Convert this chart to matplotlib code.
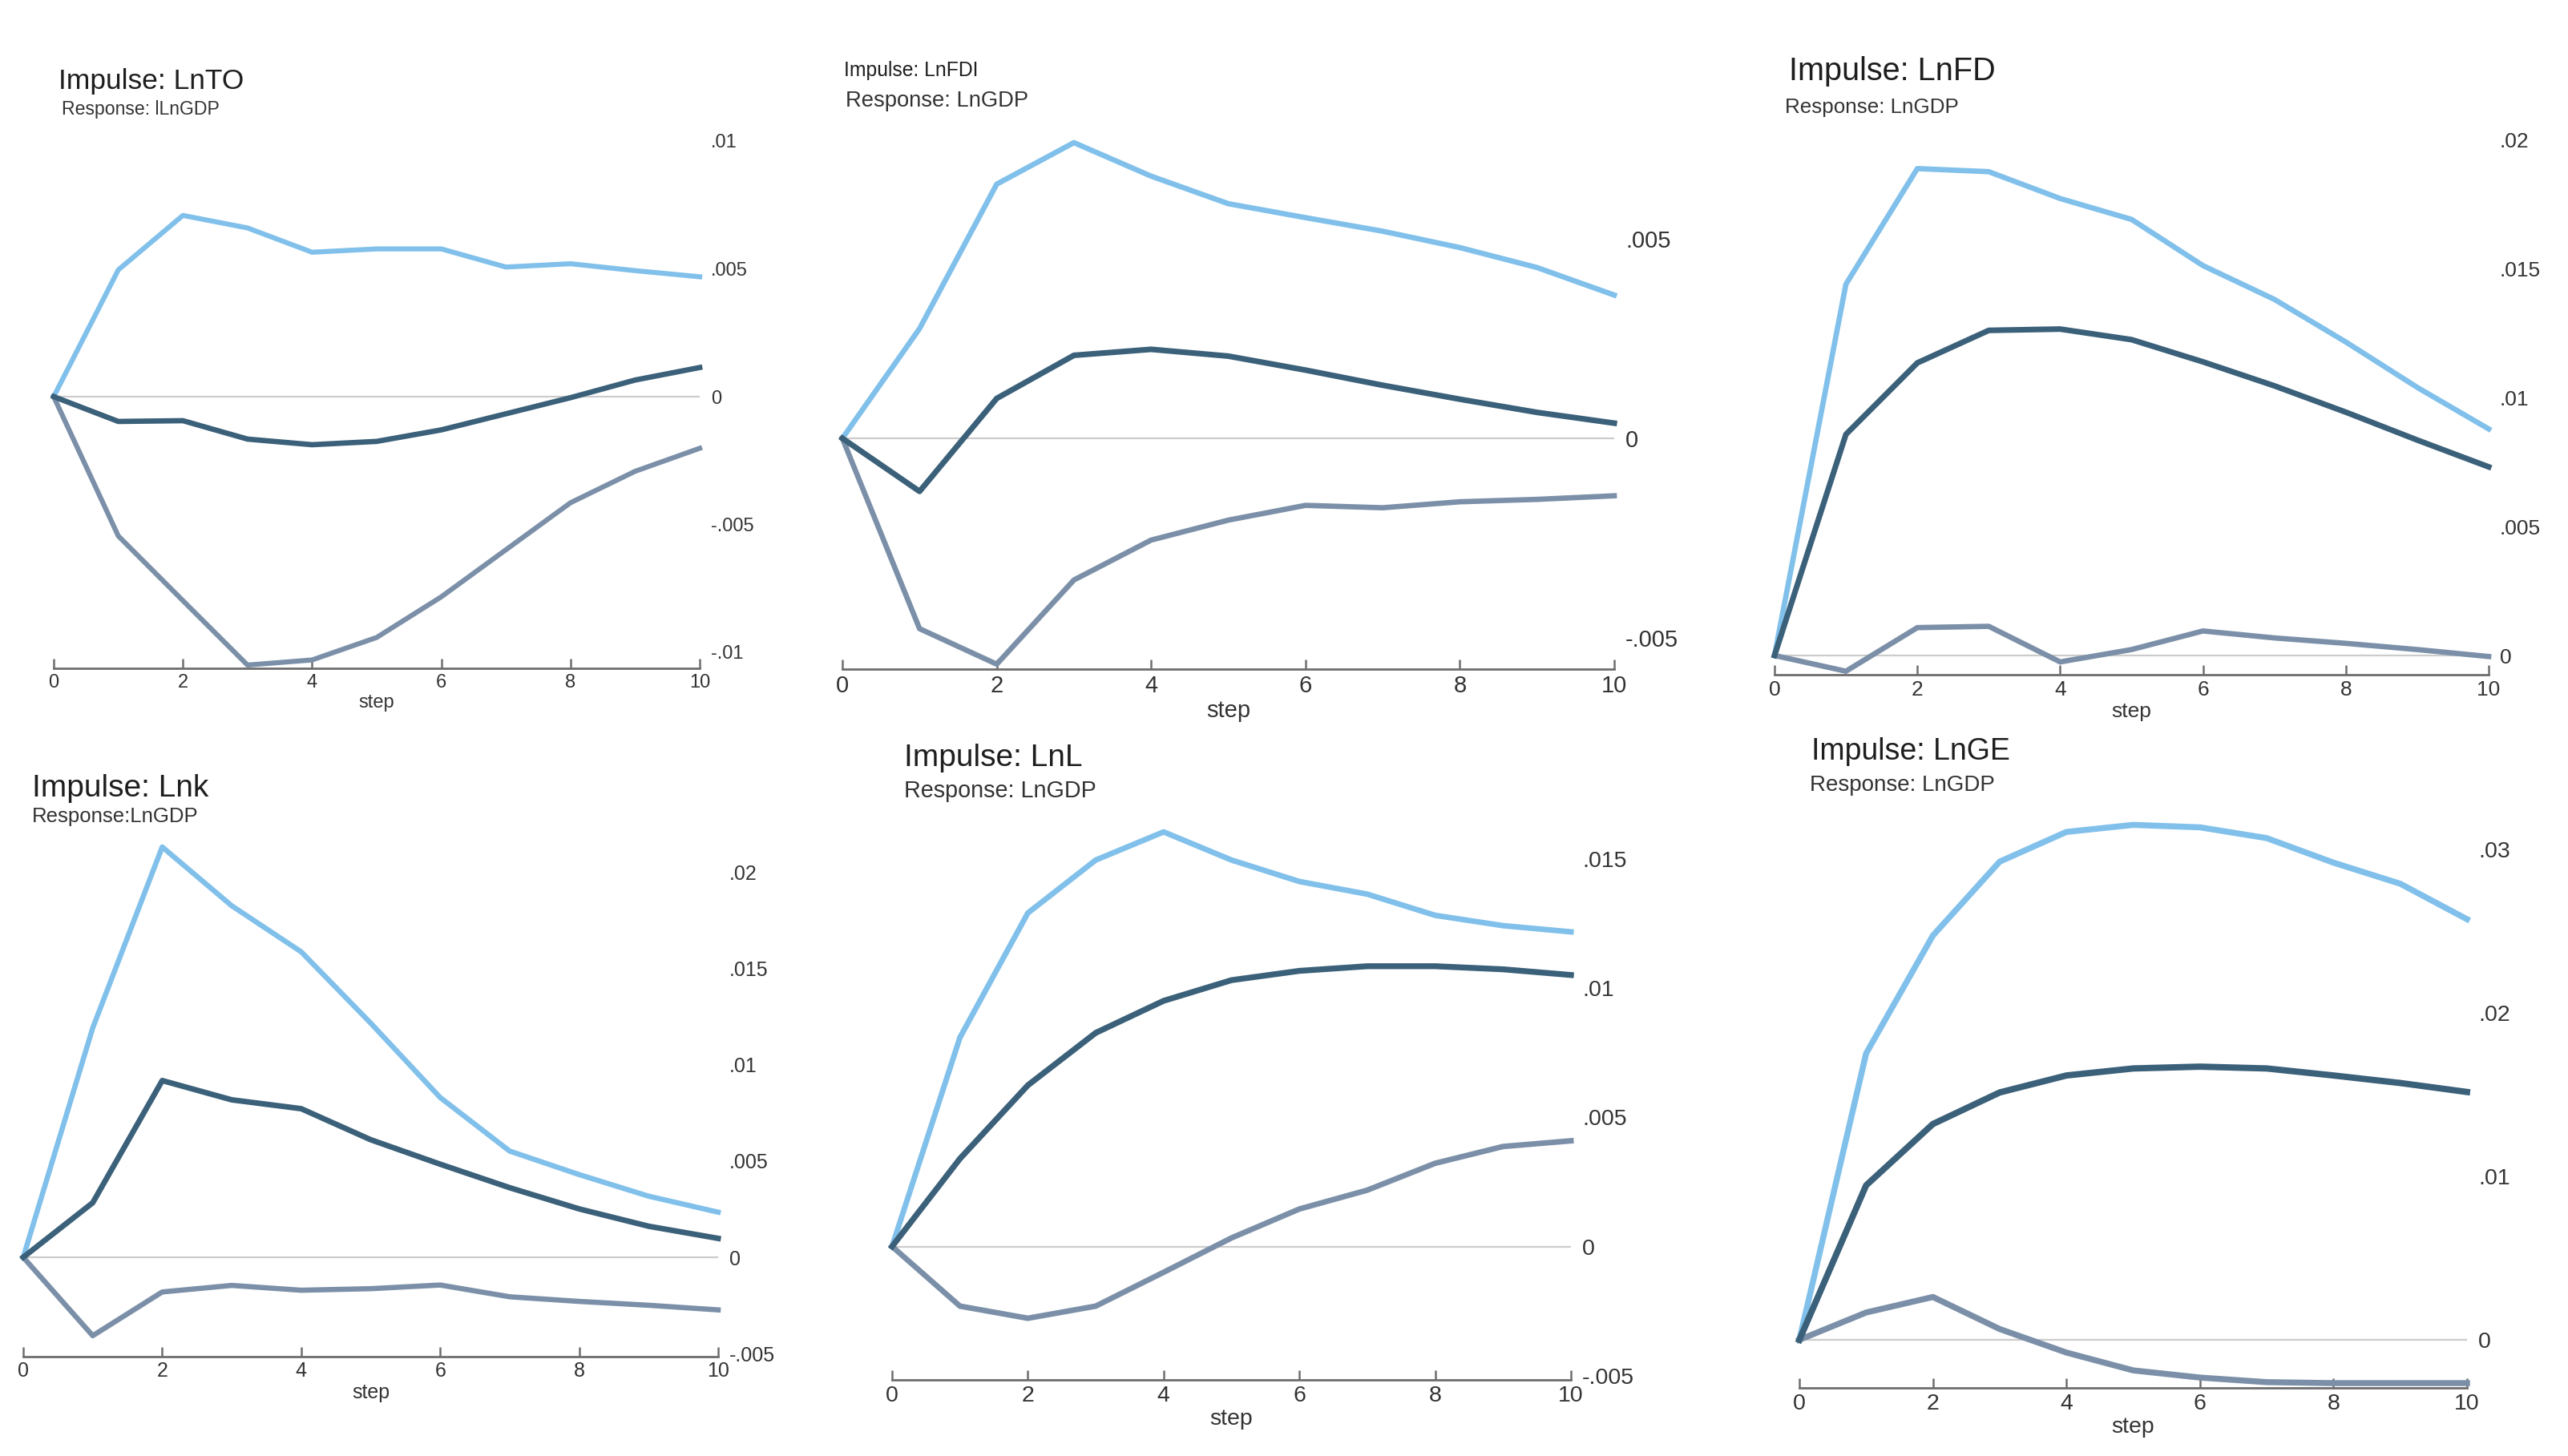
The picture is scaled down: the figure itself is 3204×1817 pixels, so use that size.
import matplotlib
matplotlib.use("Agg")
import matplotlib.pyplot as plt

plt.rcParams['font.family'] = ['Liberation Sans', 'DejaVu Sans']

steps = [0, 1, 2, 3, 4, 5, 6, 7, 8, 9, 10]

# Panel 1: Impulse LnTO
lnto_upper = [0, 0.00496, 0.00709, 0.0066, 0.00565, 0.00578, 0.00578, 0.00507, 0.0052, 0.00493, 0.00469]
lnto_irf = [0, -0.00097, -0.00094, -0.00166, -0.00188, -0.00175, -0.0013, -0.00067, -0.00004, 0.00065, 0.00114]
lnto_lower = [0, -0.00545, -0.00798, -0.0105, -0.0103, -0.00942, -0.00783, -0.00599, -0.00415, -0.00292, -0.00202]

# Panel 2: Impulse LnFDI
lnfdi_upper = [0, 0.00275, 0.00637, 0.00741, 0.00657, 0.00588, 0.00553, 0.00519, 0.00478, 0.00428, 0.00359]
lnfdi_irf = [0, -0.00133, 0.0010, 0.00208, 0.00223, 0.00206, 0.00171, 0.00133, 0.00098, 0.00065, 0.00038]
lnfdi_lower = [0, -0.00477, -0.00566, -0.00355, -0.00255, -0.00205, -0.00168, -0.00174, -0.00159, -0.00153, -0.00144]

# Panel 3: Impulse LnFD
lnfd_upper = [0, 0.01439, 0.01887, 0.01875, 0.01771, 0.0169, 0.01511, 0.0138, 0.01215, 0.01039, 0.00878]
lnfd_irf = [0, 0.00857, 0.01134, 0.0126, 0.01265, 0.01224, 0.01138, 0.01045, 0.00943, 0.00835, 0.00731]
lnfd_lower = [0, -0.00061, 0.00108, 0.00113, -0.00025, 0.00023, 0.00095, 0.00068, 0.00047, 0.00023, -0.00004]

# Panel 4: Impulse Lnk
lnk_upper = [0, 0.0119, 0.02129, 0.01824, 0.01585, 0.01215, 0.00829, 0.00551, 0.00429, 0.00317, 0.00234]
lnk_irf = [0, 0.00283, 0.00917, 0.00817, 0.00771, 0.0061, 0.00483, 0.00361, 0.00251, 0.00161, 0.00098]
lnk_lower = [0, -0.00407, -0.0018, -0.00146, -0.00171, -0.00163, -0.00144, -0.00205, -0.00229, -0.00249, -0.00273]

# Panel 5: Impulse LnL
lnl_upper = [0, 0.00809, 0.01291, 0.01496, 0.01605, 0.01496, 0.01413, 0.01364, 0.01282, 0.01242, 0.01218]
lnl_irf = [0, 0.0034, 0.00624, 0.00827, 0.00951, 0.01031, 0.01067, 0.01085, 0.01085, 0.01073, 0.01051]
lnl_lower = [0, -0.00231, -0.00278, -0.00231, -0.0010, 0.00033, 0.00145, 0.00218, 0.00322, 0.00387, 0.00409]

# Panel 6: Impulse LnGE
lnge_upper = [0, 0.01752, 0.02473, 0.02925, 0.03107, 0.0315, 0.03135, 0.03069, 0.02919, 0.0279, 0.02573]
lnge_irf = [0, 0.00945, 0.0132, 0.01513, 0.01617, 0.0166, 0.01671, 0.0166, 0.01617, 0.01571, 0.01516]
lnge_lower = [0, 0.00167, 0.00262, 0.00066, -0.00078, -0.00187, -0.00231, -0.00259, -0.00265, -0.00265, -0.00265]

titles = ["Impulse: LnTO", "Impulse: LnFDI", "Impulse: LnFD", "Impulse: Lnk", "Impulse: LnL", "Impulse: LnGE"]
subtitles = ["Response: lLnGDP", "Response: LnGDP", "Response: LnGDP", "Response:LnGDP", "Response: LnGDP", "Response: LnGDP"]
ytick_values = [
    [0.01, 0.005, 0, -0.005, -0.01],
    [0.005, 0, -0.005],
    [0.02, 0.015, 0.01, 0.005, 0],
    [0.02, 0.015, 0.01, 0.005, 0, -0.005],
    [0.015, 0.01, 0.005, 0, -0.005],
    [0.03, 0.02, 0.01, 0],
]
ytick_labels = [
    [".01", ".005", "0", "-.005", "-.01"],
    [".005", "0", "-.005"],
    [".02", ".015", ".01", ".005", "0"],
    [".02", ".015", ".01", ".005", "0", "-.005"],
    [".015", ".01", ".005", "0", "-.005"],
    [".03", ".02", ".01", "0"],
]
xtick_values = [0, 2, 4, 6, 8, 10]
xtick_labels = ["0", "2", "4", "6", "8", "10"]

series = [
    (lnto_upper, lnto_irf, lnto_lower),
    (lnfdi_upper, lnfdi_irf, lnfdi_lower),
    (lnfd_upper, lnfd_irf, lnfd_lower),
    (lnk_upper, lnk_irf, lnk_lower),
    (lnl_upper, lnl_irf, lnl_lower),
    (lnge_upper, lnge_irf, lnge_lower),
]

W, H = 3204, 1817
fig = plt.figure(figsize=(W / 100, H / 100), dpi=100)
fig.patch.set_facecolor('white')

# layout in pixels: left(step0), right(step10), zero_px, px_per_unit, bottom(axis line), top
layout = [
    (67, 873, 495, 31900, 834, 165),
    (1051, 2014, 547, 49800, 835, 165),
    (2214, 3105, 818, 32200, 842.5, 165),
    (29, 896, 1569, 24050, 1692.5, 1045),
    (1113, 1960, 1555.5, 32233, 1722, 1025),
    (2245, 3078, 1672, 20400, 1732, 1015),
]
# title (x, baseline y, size), subtitle (x, baseline y, size), tick size, line width
text_layout = [
    ((73, 111, 25.5), (77, 143, 16.6), 17, 4.5),
    ((1053, 95, 17.8), (1055, 133, 19.7), 21, 4.8),
    ((2232, 100, 28.5), (2227, 141, 18.7), 19, 4.8),
    ((40, 994, 28), (40, 1026, 18.5), 18, 4.7),
    ((1128, 956, 28), (1128, 995, 20.7), 20.5, 5.0),
    ((2260, 948, 27), (2258, 987, 20), 20.5, 5.4),
]

c_upper = '#80c0ea'
c_irf = '#3b6079'
c_lower = '#7b90a8'

for i in range(6):
    left, right, zero, ppu, bottom, top = layout[i]
    ymin = (zero - bottom) / ppu
    ymax = (zero - top) / ppu
    ax = fig.add_axes([left / W, 1 - bottom / H, (right - left) / W, (bottom - top) / H])
    ax.set_xlim(0, 10)
    ax.set_ylim(ymin, ymax)
    ax.patch.set_alpha(0)
    (tx, ty, ts), (sx, sy, ss), tks, lw = text_layout[i]
    up, irf, lo = series[i]
    ax.axhline(0, color='#cccccc', lw=1.6, zorder=1)
    ax.plot(steps, up, color=c_upper, lw=lw, solid_joinstyle='round', clip_on=False, zorder=3)
    ax.plot(steps, lo, color=c_lower, lw=lw, solid_joinstyle='round', clip_on=False, zorder=3)
    ax.plot(steps, irf, color=c_irf, lw=lw + 0.3, solid_joinstyle='round', clip_on=False, zorder=4)
    for s in ['top', 'left', 'right']:
        ax.spines[s].set_visible(False)
    ax.spines['bottom'].set_color('#6e6e6e')
    ax.spines['bottom'].set_linewidth(2)
    ax.set_xticks(xtick_values)
    ax.set_xticklabels(xtick_labels)
    ax.tick_params(axis='x', direction='in', length=9, width=1.8, color='#6e6e6e',
                   labelsize=tks, labelcolor='#333333', pad=5)
    ax.yaxis.tick_right()
    ax.set_yticks(ytick_values[i])
    ax.set_yticklabels(ytick_labels[i])
    ax.tick_params(axis='y', length=0, pad=10, labelsize=tks, labelcolor='#333333')
    for lab in ax.get_yticklabels():
        lab.set_horizontalalignment('left')
    ax.set_xlabel('step', fontsize=tks, color='#333333', labelpad=2)
    fig.text(tx / W, 1 - ty / H, titles[i], fontsize=ts, color='#1e1e1e', va='baseline', ha='left')
    fig.text(sx / W, 1 - sy / H, subtitles[i], fontsize=ss, color='#333333', va='baseline', ha='left')

fig.savefig('out.png', dpi=100, facecolor='white')
